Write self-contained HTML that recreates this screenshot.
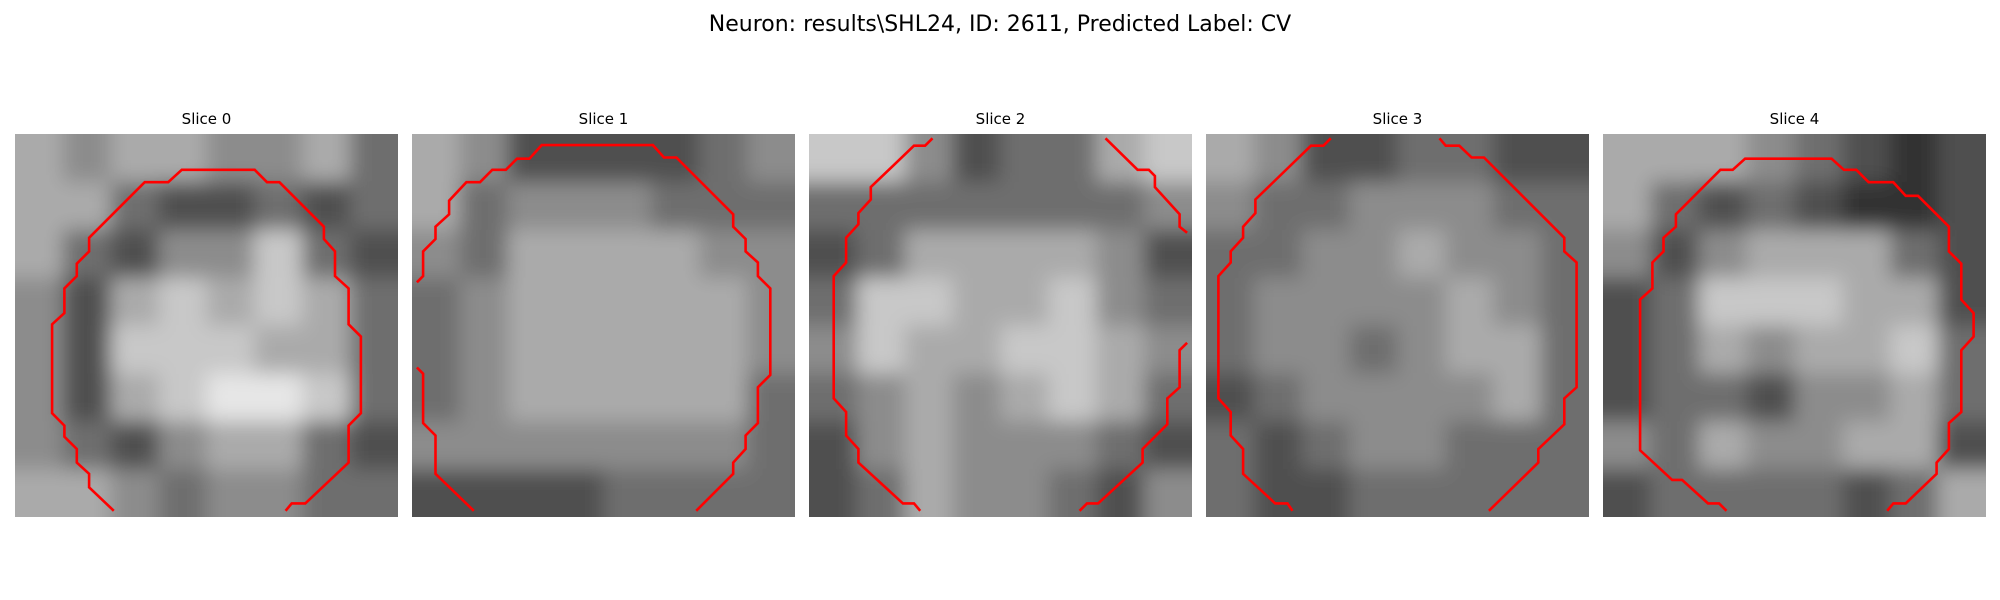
<!DOCTYPE html>
<html><head><meta charset="utf-8">
<style>
html,body{margin:0;padding:0;background:#fff;}
svg{display:block;}
text{font-family:"DejaVu Sans","Liberation Sans",sans-serif;fill:#000;}
</style></head>
<body>
<svg id="fig" width="2000" height="600" viewBox="0 0 2000 600" xmlns="http://www.w3.org/2000/svg">
<defs>
<filter id="soft" x="-20%" y="-20%" width="140%" height="140%">
<feGaussianBlur stdDeviation="10"/>
</filter>
</defs>
<rect width="2000" height="600" fill="#fff"/>
<text x="1000" y="31" text-anchor="middle" font-size="22">Neuron: results\SHL24, ID: 2611, Predicted Label: CV</text>
</svg>
<script>
// Slice titles
const sliceTitles = ["Slice 0","Slice 1","Slice 2","Slice 3","Slice 4"];
// Coarse brightness grids (0-9), 8x8 per slice, rows top to bottom
const intensity0 = ["65665564","66433434","64355743","53676764","53777664","53678874","54356643","66545544"];
const intensity1 = ["65333345","64555444","54666655","45666665","45666665","45666664","55555554","33334444"];
const intensity2 = ["77534467","44444445","34666653","47766754","57667765","45656764","35655543","34655435"];
const intensity3 = ["65334433","54455544","44556554","45555654","45545664","34555564","43455444","43344444"];
const intensity4 = ["66654323","64343223","53566643","34777663","34656674","34435564","54655663","34444346"];
const intensities = [intensity0,intensity1,intensity2,intensity3,intensity4];
// Contours in grid-cell units (31x31 grid)
const contour0 = [[[8.0,30.5],[6.0,28.6],[6.0,27.5],[5.0,26.6],[5.0,25.5],[4.0,24.5],[4.0,23.6],[3.0,22.6],[3.0,15.4],[4.0,14.5],[4.0,12.5],[5.0,11.5],[5.0,10.5],[6.0,9.5],[6.0,8.4],[10.5,3.9],[12.4,3.9],[13.5,2.9],[19.4,2.9],[20.4,3.9],[21.4,3.9],[25.0,7.5],[25.0,8.5],[25.9,9.5],[25.9,11.5],[27.0,12.5],[27.0,15.4],[28.0,16.4],[28.0,22.6],[27.0,23.6],[27.0,26.6],[23.5,29.9],[22.4,29.9],[21.9,30.5]]];
const contour1 = [[[0.4,18.9],[0.9,19.4],[0.9,23.4],[1.9,24.4],[1.9,27.5],[5.0,30.5]],
 [[0.4,12.0],[0.9,11.5],[0.9,9.5],[1.9,8.5],[1.9,7.5],[3.0,6.5],[3.0,5.4],[4.4,3.9],[5.5,3.9],[6.5,2.9],[7.6,2.9],[8.5,2.0],[9.5,2.0],[10.5,0.9],[19.5,0.9],[20.4,1.9],[21.4,1.9],[26.0,6.5],[26.0,7.5],[27.0,8.5],[27.0,9.5],[28.0,10.4],[28.0,11.5],[29.0,12.5],[29.0,19.5],[28.0,20.5],[28.0,23.4],[27.0,24.4],[27.0,25.5],[26.0,26.6],[26.0,27.5],[23.0,30.5]]];
const contour2 = [[[10.0,0.35],[9.4,0.95],[8.5,0.95],[5.0,4.3],[5.0,5.3],[4.0,6.4],[4.0,7.3],[3.0,8.4],[3.0,10.4],[2.0,11.5],[2.0,21.4],[3.0,22.5],[3.0,24.4],[4.0,25.5],[4.0,26.6],[7.6,29.9],[8.5,29.9],[9.0,30.5]],
 [[24.0,0.35],[26.6,2.9],[27.5,2.9],[28.0,3.4],[28.0,4.3],[30.0,6.5],[30.0,7.5],[30.6,8.0]],
 [[30.6,16.9],[30.0,17.5],[30.0,20.5],[29.0,21.4],[29.0,23.5],[27.0,25.5],[27.0,26.6],[23.4,29.9],[22.5,29.9],[21.9,30.5]]];
const contour3 = [[[10.1,0.35],[9.5,0.95],[8.5,0.95],[4.0,5.3],[4.0,6.4],[3.0,7.5],[3.0,8.4],[2.0,9.5],[2.0,10.4],[1.0,11.5],[1.0,21.4],[2.0,22.5],[2.0,24.4],[3.0,25.5],[3.0,27.5],[5.6,29.9],[6.6,29.9],[7.0,30.5]],
 [[18.9,0.35],[19.4,0.95],[20.5,0.95],[21.5,1.9],[22.5,1.9],[29.0,8.4],[29.0,9.5],[30.0,10.4],[30.0,20.5],[29.0,21.4],[29.0,23.5],[26.9,25.5],[26.9,26.6],[22.9,30.5]]];
const contour4 = [[[10.0,30.5],[9.4,29.9],[8.5,29.9],[6.4,28.0],[5.6,28.0],[3.0,25.6],[3.0,13.4],[4.0,12.5],[4.0,10.4],[4.9,9.5],[4.9,8.4],[5.9,7.5],[5.9,6.5],[9.5,2.9],[10.5,2.9],[11.5,2.0],[18.5,2.0],[19.5,2.9],[20.5,2.9],[21.5,3.9],[23.5,3.9],[24.5,5.0],[25.5,5.0],[28.0,7.5],[28.0,9.5],[29.0,10.5],[29.0,13.4],[30.0,14.5],[30.0,16.4],[29.0,17.5],[29.0,22.5],[28.0,23.4],[28.0,25.5],[27.0,26.6],[27.0,27.5],[24.5,29.9],[23.5,29.9],[23.0,30.5]]];
const contours = [contour0,contour1,contour2,contour3,contour4];

const NS = "http://www.w3.org/2000/svg";
const svg = document.getElementById('fig');
const defs = svg.querySelector('defs');
const panelX0 = 15, panelStep = 397, panelY = 134, panelSize = 383, gridN = 31;
function gray(d){ const v = Math.max(0, Math.min(255, Math.round(140 + (d-5)*30))); return `rgb(${v},${v},${v})`; }
const clampIdx = (i, n) => Math.max(0, Math.min(n-1, i));

sliceTitles.forEach((title, s) => {
  const px = panelX0 + s*panelStep;
  const g = document.createElementNS(NS,'g');
  
  
  svg.appendChild(g);

  const t = document.createElementNS(NS,'text');
  
  
  t.setAttribute('x', px + panelSize/2);
  t.setAttribute('y', panelY - 10);
  t.setAttribute('text-anchor','middle');
  t.setAttribute('font-size','15');
  t.textContent = title;
  g.appendChild(t);

  const cp = document.createElementNS(NS,'clipPath');
  cp.setAttribute('id','clip'+s);
  const cr = document.createElementNS(NS,'rect');
  cr.setAttribute('x',px); cr.setAttribute('y',panelY);
  cr.setAttribute('width',panelSize); cr.setAttribute('height',panelSize);
  cp.appendChild(cr); defs.appendChild(cp);

  const outer = document.createElementNS(NS,'g');
  outer.setAttribute('clip-path','url(#clip'+s+')');
  g.appendChild(outer);
  const img = document.createElementNS(NS,'g');
  
  
  img.setAttribute('filter','url(#soft)');
  outer.appendChild(img);

  const rows = intensities[s];
  const n = rows.length;
  const cell = panelSize / n;
  for (let r = -1; r <= n; r++) {
    for (let c = -1; c <= n; c++) {
      const val = +rows[clampIdx(r,n)][clampIdx(c,n)];
      const rc = document.createElementNS(NS,'rect');
      
      
      rc.setAttribute('x', px + c*cell);
      rc.setAttribute('y', panelY + r*cell);
      rc.setAttribute('width', cell + 0.5);
      rc.setAttribute('height', cell + 0.5);
      rc.setAttribute('fill', gray(val));
      img.appendChild(rc);
    }
  }

  const sx = v => px + v * panelSize / gridN;
  const sy = v => panelY + v * panelSize / gridN;
  contours[s].forEach(seg => {
    const pl = document.createElementNS(NS,'polyline');
    
    
    pl.setAttribute('points', seg.map(p => sx(p[0]).toFixed(1) + ',' + sy(p[1]).toFixed(1)).join(' '));
    pl.setAttribute('fill','none');
    pl.setAttribute('stroke','#ff0000');
    pl.setAttribute('stroke-width','2.6');
    g.appendChild(pl);
  });
});
</script>
</body></html>
